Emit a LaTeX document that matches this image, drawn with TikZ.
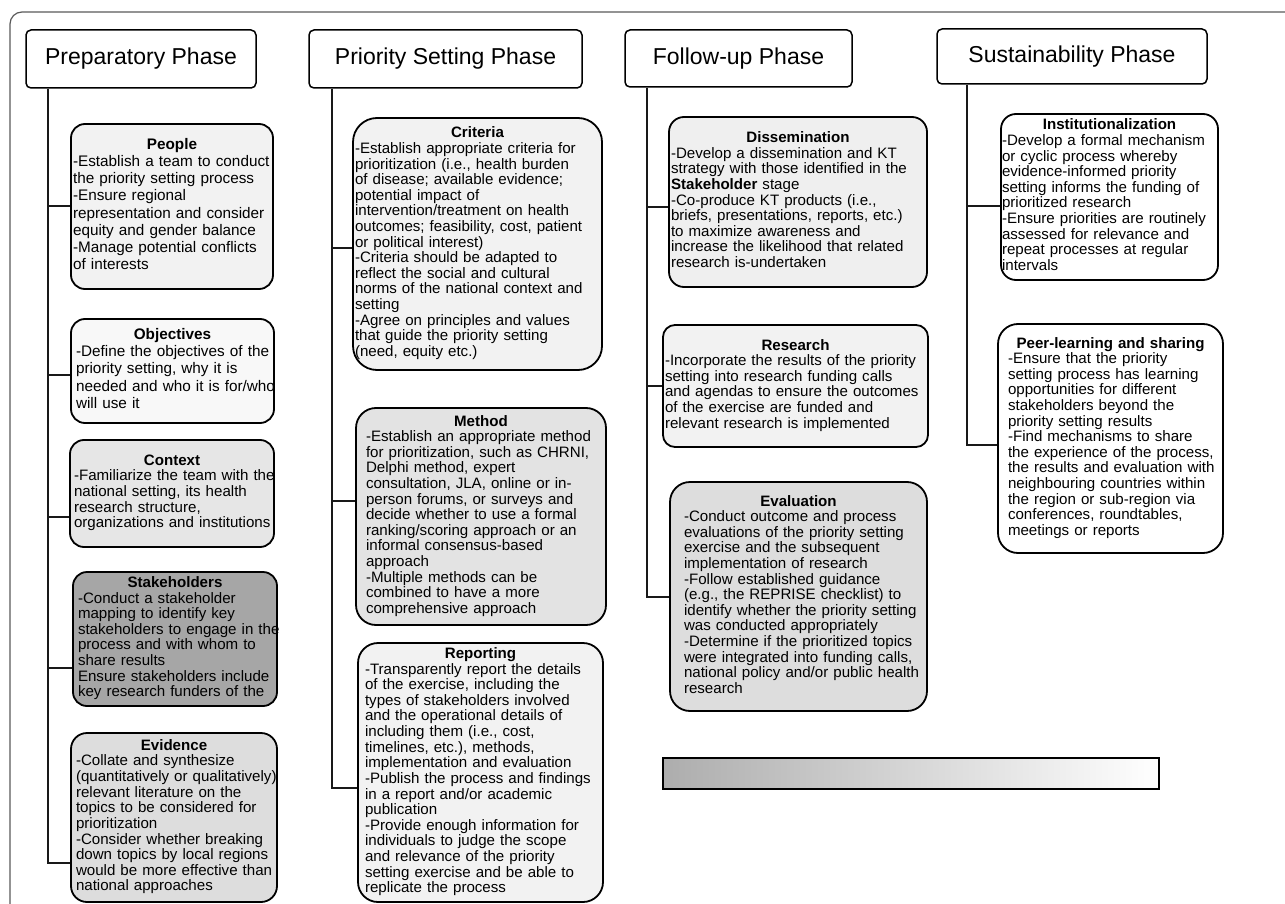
\documentclass[tikz,border=0pt]{standalone}
\usepackage{fontspec}
\setmainfont{Liberation Sans}
\usetikzlibrary{calc}
\definecolor{fillA}{HTML}{F2F2F2}
\definecolor{fillB}{HTML}{F8F8F8}
\definecolor{fillC}{HTML}{E6E6E6}
\definecolor{fillD}{HTML}{A6A6A6}
\definecolor{fillE}{HTML}{DDDDDD}
\definecolor{fillF}{HTML}{E3E3E3}
\definecolor{fillG}{HTML}{EFEFEF}
\definecolor{frameC}{HTML}{5A5A5A}
\definecolor{barL}{HTML}{ADADAD}
\newcommand{\cardtext}[2]{\makebox[\linewidth][c]{\bfseries #1}\par\begin{tabular}[t]{@{}l@{}}#2\end{tabular}}
\tikzset{
  phasebox/.style={draw, line width=1.5pt, rounded corners=5pt, fill=white, inner sep=0pt, font=\fontsize{23}{27}\selectfont},
  card/.style={draw, line width=1.8pt, align=left, inner ysep=0pt, font=\fontsize{15.1}{15.55}\selectfont},
  cardwide/.style={card, font=\fontsize{15.3}{17.2}\selectfont},
  conn/.style={line width=2pt, black!90},
}
\begin{document}
\begin{tikzpicture}[x=1pt,y=-1pt]
\useasboundingbox (0,0) rectangle (1285,904);
\fill[white] (0,0) rectangle (1285,904);
\draw[frameC, line width=1.2pt, rounded corners=12pt] (10,930) -- (10,12) -- (1310,12);

% phase headers
\node[phasebox, minimum width=230pt, minimum height=58pt] (prep) at (141,59) {Preparatory Phase};
\node[phasebox, minimum width=273pt, minimum height=58pt] (prio) at (445.5,59) {Priority Setting Phase};
\node[phasebox, minimum width=227pt, minimum height=57pt] (follow) at (738.5,58.5) {Follow-up Phase};
\node[phasebox, minimum width=270pt, minimum height=55pt] (sust) at (1072,56.5) {Sustainability Phase};

% column 1
\node[cardwide, fill=fillA, rounded corners=14pt, minimum width=202pt, minimum height=165pt, inner xsep=2pt, text width=198pt] (people) at (172,206.5)
 {\cardtext{People}{-Establish a team to conduct\\the priority setting process\\-Ensure regional\\representation and consider\\equity and gender balance\\-Manage potential conflicts\\of interests}};
\node[cardwide, fill=fillB, rounded corners=14pt, minimum width=203pt, minimum height=104pt, inner xsep=5pt, text width=193pt] (objectives) at (172.5,371)
 {\cardtext{Objectives}{-Define the objectives of the\\priority setting, why it is\\needed and who it is for/who\\will use it}};
\node[card, fill=fillC, rounded corners=14pt, minimum width=204pt, minimum height=107pt, inner xsep=4pt, text width=196pt] (context) at (172,493.5)
 {\cardtext{Context}{-Familiarize the team with the\\national setting, its health\\research structure,\\organizations and institutions}};
\node[card, fill=fillD, rounded corners=14pt, minimum width=204pt, minimum height=134pt, inner xsep=5pt, text width=194pt] (stakeholders) at (175,639)
 {\cardtext{Stakeholders}{-Conduct a stakeholder\\mapping to identify key\\stakeholders to engage in the\\process and with whom to\\share results\\Ensure stakeholders include\\key research funders of the}};
\node[card, fill=fillE, rounded corners=16pt, minimum width=206pt, minimum height=169pt, inner xsep=5pt, text width=196pt] (evidence) at (174,817.5)
 {\cardtext{Evidence}{-Collate and synthesize\\(quantitatively or qualitatively)\\relevant literature on the\\topics to be considered for\\prioritization\\-Consider whether breaking\\down topics by local regions\\would be more effective than\\national approaches}};

% column 2
\node[card, fill=fillA, rounded corners=24pt, minimum width=249pt, minimum height=252pt, inner xsep=2pt, text width=245pt] (criteria) at (477.5,244)
 {\cardtext{Criteria}{-Establish appropriate criteria for\\prioritization (i.e., health burden\\of disease; available evidence;\\potential impact of\\intervention/treatment on health\\outcomes; feasibility, cost, patient\\or political interest)\\-Criteria should be adapted to\\reflect the social and cultural\\norms of the national context and\\setting\\-Agree on principles and values\\that guide the priority setting\\(need, equity etc.)}};
\node[card, fill=fillF, rounded corners=20pt, minimum width=250pt, minimum height=217pt, inner xsep=10pt, text width=230pt] (method) at (481,516.5)
 {\cardtext{Method}{-Establish an appropriate method\\for prioritization, such as CHRNI,\\Delphi method, expert\\consultation, JLA, online or in-\\person forums, or surveys and\\decide whether to use a formal\\ranking/scoring approach or an\\informal consensus-based\\approach\\-Multiple methods can be\\combined to have a more\\comprehensive approach}};
\node[card, fill=fillA, rounded corners=20pt, minimum width=245pt, minimum height=259pt, inner xsep=7pt, text width=231pt] (reporting) at (480.5,772.5)
 {\cardtext{Reporting}{-Transparently report the details\\of the exercise, including the\\types of stakeholders involved\\and the operational details of\\including them (i.e., cost,\\timelines, etc.), methods,\\implementation and evaluation\\-Publish the process and findings\\in a report and/or academic\\publication\\-Provide enough information for\\individuals to judge the scope\\and relevance of the priority\\setting exercise and be able to\\replicate the process}};

% column 3
\node[card, fill=fillG, rounded corners=15pt, minimum width=258pt, minimum height=170pt, inner xsep=2pt, text width=254pt] (dissemination) at (798,202)
 {\cardtext{Dissemination}{-Develop a dissemination and KT\\strategy with those identified in the\\\textbf{Stakeholder} stage\\-Co-produce KT products (i.e.,\\briefs, presentations, reports, etc.)\\to maximize awareness and\\increase the likelihood that related\\research is-undertaken}};
\node[card, fill=fillA, rounded corners=12pt, minimum width=265pt, minimum height=122pt, inner xsep=2pt, text width=261pt] (research) at (795.5,386)
 {\cardtext{Research}{-Incorporate the results of the priority\\setting into research funding calls\\and agendas to ensure the outcomes\\of the exercise are funded and\\relevant research is implemented}};
\node[card, fill=fillE, rounded corners=20pt, minimum width=257pt, minimum height=229pt, inner xsep=14pt, text width=229pt] (evaluation) at (798.5,596.5)
 {\cardtext{Evaluation}{-Conduct outcome and process\\evaluations of the priority setting\\exercise and the subsequent\\implementation of research\\-Follow established guidance\\(e.g., the REPRISE checklist) to\\identify whether the priority setting\\was conducted appropriately\\-Determine if the prioritized topics\\were integrated into funding calls,\\national policy and/or public health\\research}};

% column 4
\node[card, fill=white, rounded corners=15pt, minimum width=217pt, minimum height=166pt, inner xsep=1pt, text width=215pt] (inst) at (1109.5,197)
 {\cardtext{Institutionalization}{-Develop a formal mechanism\\or cyclic process whereby\\evidence-informed priority\\setting informs the funding of\\prioritized research\\-Ensure priorities are routinely\\assessed for relevance and\\repeat processes at regular\\intervals}};
\node[card, fill=white, rounded corners=20pt, minimum width=225pt, minimum height=229pt, inner xsep=10pt, text width=205pt] (peer) at (1110.5,438.5)
 {\cardtext{Peer-learning and sharing}{-Ensure that the priority\\setting process has learning\\opportunities for different\\stakeholders beyond the\\priority setting results\\-Find mechanisms to share\\the experience of the process,\\the results and evaluation with\\neighbouring countries within\\the region or sub-region via\\conferences, roundtables,\\meetings or reports}};

% gradient bar
\node[draw, line width=1.5pt, inner sep=0pt, minimum width=496pt, minimum height=31pt, left color=barL, right color=white] (bar) at (911,773.5) {};

% spines
\coordinate (s1) at ([xshift=23pt]prep.south west);
\coordinate (s2) at ([xshift=24pt]prio.south west);
\coordinate (s3) at ([xshift=23pt]follow.south west);
\coordinate (s4) at ([xshift=31pt]sust.south west);

\coordinate (a-people) at (people.west);
\coordinate (a-obj) at ([yshift=-4pt]objectives.west);
\coordinate (a-ctx) at ([yshift=-23.5pt]context.west);
\coordinate (a-stk) at ([yshift=-29pt]stakeholders.west);
\coordinate (a-evi) at ([yshift=-45.5pt]evidence.west);
\draw[conn] (s1) |- (a-evi);
\foreach \t in {a-people,a-obj,a-ctx,a-stk} \draw[conn] (\t) -- (\t -| s1);

\coordinate (a-cri) at ([yshift=-4pt]criteria.west);
\coordinate (a-met) at ([yshift=15.5pt]method.west);
\coordinate (a-rep) at ([yshift=-15.5pt]reporting.west);
\draw[conn] (s2) |- (a-rep);
\foreach \t in {a-cri,a-met} \draw[conn] (\t) -- (\t -| s2);

\coordinate (a-dis) at ([yshift=-5pt]dissemination.west);
\coordinate (a-res) at (research.west);
\coordinate (a-eva) at (evaluation.west);
\draw[conn] (s3) |- (a-eva);
\foreach \t in {a-dis,a-res} \draw[conn] (\t) -- (\t -| s3);

\coordinate (a-ins) at ([yshift=-9pt]inst.west);
\coordinate (a-peer) at ([yshift=-6.5pt]peer.west);
\draw[conn] (s4) |- (a-peer);
\draw[conn] (a-ins) -- (a-ins -| s4);
\end{tikzpicture}
\end{document}
